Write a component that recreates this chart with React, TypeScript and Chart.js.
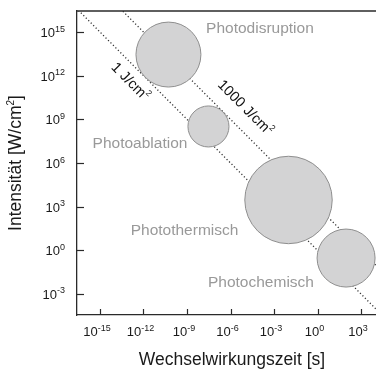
import React, { useEffect, useRef } from "react";
import { Chart, registerables } from "chart.js";

Chart.register(...registerables);

// ---- data ----
const regimeNames = ["Photodisruption", "Photoablation", "Photothermisch", "Photochemisch"];
const regimeTimes = [5.25e-11, 3.02e-8, 1.0e-2, 93.3]; // s (circle centres)
const regimeIntensities = [2.82e13, 3.24e8, 2.88e3, 0.295]; // W/cm² (circle centres)
const regimeSpanDecades = [4.48, 2.83, 6.03, 4.0]; // circle diameter in decades of time
const regimeLabelTimes = [1.07e-4, 5.75e-13, 6.76e-10, 1.26e-4];
const regimeLabelIntensities = [8.5e14, 1.07e7, 11.2, 3.0e-3];

const fluenceLineTimes = [1e-17, 1e5];
const fluence1J = [1e17, 1e-5];
const fluence1000J = [1e20, 1e-2];
const fluenceLabelTexts = ["1 J/cm", "1000 J/cm"];
const fluenceLabelTimes = [1.17e-13, 1.0e-5];
const fluenceLabelIntensities = [3.7e11, 6.0e9];

const xTickExponents = [-15, -12, -9, -6, -3, 0, 3];
const yTickExponents = [-3, 0, 3, 6, 9, 12, 15];

const xTitle = "Wechselwirkungszeit [s]";
const yTitleMain = "Intensität [W/cm";

const FONT = "'Liberation Sans', Arial, Helvetica, sans-serif";
const AXIS_COLOR = "#2a2a2a";

type Part = { text: string; sup?: boolean };

function drawParts(
  ctx: CanvasRenderingContext2D,
  parts: Part[],
  x: number,
  y: number,
  align: "left" | "center" | "right",
  size: number,
  supSize: number,
  supRise: number
) {
  const widths = parts.map((p) => {
    ctx.font = `${p.sup ? supSize : size}px ${FONT}`;
    return ctx.measureText(p.text).width;
  });
  const total = widths.reduce((a, b) => a + b, 0);
  let cur = align === "center" ? x - total / 2 : align === "right" ? x - total : x;
  ctx.textAlign = "left";
  parts.forEach((p, i) => {
    ctx.font = `${p.sup ? supSize : size}px ${FONT}`;
    ctx.fillText(p.text, cur, p.sup ? y - supRise : y);
    cur += widths[i];
  });
}

const decorPlugin = {
  id: "decor",
  afterDraw(chart: any) {
    const { ctx, chartArea } = chart;
    const sx = chart.scales.x;
    const sy = chart.scales.y;
    ctx.save();
    // top frame line
    ctx.strokeStyle = AXIS_COLOR;
    ctx.lineWidth = 1.3;
    ctx.beginPath();
    ctx.moveTo(chartArea.left, chartArea.top);
    ctx.lineTo(chartArea.right, chartArea.top);
    ctx.stroke();
    // inward ticks
    ctx.lineWidth = 1.2;
    xTickExponents.forEach((e) => {
      const px = Math.round(sx.getPixelForValue(Math.pow(10, e))) + 0.5;
      ctx.beginPath();
      ctx.moveTo(px, chartArea.bottom);
      ctx.lineTo(px, chartArea.bottom - 6);
      ctx.stroke();
    });
    yTickExponents.forEach((e) => {
      const py = Math.round(sy.getPixelForValue(Math.pow(10, e))) + 0.5;
      ctx.beginPath();
      ctx.moveTo(chartArea.left, py);
      ctx.lineTo(chartArea.left + 7, py);
      ctx.stroke();
    });
    // tick labels
    ctx.fillStyle = "#1a1a1a";
    ctx.textBaseline = "alphabetic";
    xTickExponents.forEach((e) => {
      const px = sx.getPixelForValue(Math.pow(10, e));
      drawParts(ctx, [{ text: "10" }, { text: String(e), sup: true }], px - 3, chartArea.bottom + 21, "center", 13, 9, 5.5);
    });
    yTickExponents.forEach((e) => {
      const py = sy.getPixelForValue(Math.pow(10, e));
      drawParts(ctx, [{ text: "10" }, { text: String(e), sup: true }], chartArea.left - 12, py + 5, "right", 13, 9, 5.5);
    });
    // axis titles
    ctx.fillStyle = "#1a1a1a";
    drawParts(ctx, [{ text: xTitle }], 232, 365, "center", 17.5, 11, 7);
    ctx.save();
    ctx.translate(21, 163);
    ctx.rotate(-Math.PI / 2);
    drawParts(ctx, [{ text: yTitleMain }, { text: "2", sup: true }, { text: "]" }], 0, 0, "center", 17.5, 10, 7);
    ctx.restore();
    // regime labels
    ctx.fillStyle = "#999999";
    regimeNames.forEach((name, i) => {
      const px = sx.getPixelForValue(regimeLabelTimes[i]);
      const py = sy.getPixelForValue(regimeLabelIntensities[i]);
      drawParts(ctx, [{ text: name }], px, py, "center", 15.5, 10, 6);
    });
    // fluence labels (rotated along the lines)
    const p1x = sx.getPixelForValue(1e-15);
    const p1y = sy.getPixelForValue(1e15);
    const p2x = sx.getPixelForValue(1e3);
    const p2y = sy.getPixelForValue(1e-3);
    const angle = Math.atan2(p2y - p1y, p2x - p1x);
    ctx.fillStyle = "#111111";
    ctx.textBaseline = "middle";
    fluenceLabelTexts.forEach((t, i) => {
      const px = sx.getPixelForValue(fluenceLabelTimes[i]);
      const py = sy.getPixelForValue(fluenceLabelIntensities[i]);
      ctx.save();
      ctx.translate(px, py);
      ctx.rotate(angle);
      drawParts(ctx, [{ text: t }, { text: "2", sup: true }], 0, 0, "center", 14.5, 8.5, 5);
      ctx.restore();
    });
    ctx.restore();
  },
};

export default function App() {
  const ref = useRef<HTMLCanvasElement | null>(null);
  useEffect(() => {
    if (!ref.current) return;
    const circleData = regimeTimes.map((t, i) => ({
      x: t,
      y: regimeIntensities[i],
      span: regimeSpanDecades[i],
    }));
    const radiusFn = (c: any) => {
      const sx = c.chart.scales.x;
      const raw = c.raw;
      if (!sx || !raw) return 0;
      const half = Math.pow(10, raw.span / 2);
      return Math.abs(sx.getPixelForValue(raw.x * half) - sx.getPixelForValue(raw.x / half)) / 2;
    };
    const lineStyle = {
      type: "scatter" as const,
      showLine: true,
      pointRadius: 0,
      borderColor: "#333333",
      borderWidth: 1.3,
      borderDash: [1.2, 2.3],
      fill: false,
      order: 1,
    };
    const chart = new Chart(ref.current, {
      type: "scatter",
      data: {
        datasets: [
          {
            label: "Regime",
            data: circleData as any,
            backgroundColor: "#d3d3d4",
            borderColor: "#8e8e8e",
            borderWidth: 1,
            pointRadius: radiusFn as any,
            pointHoverRadius: radiusFn as any,
            clip: false as any,
            order: 0,
          },
          {
            ...lineStyle,
            label: "1 J/cm²",
            data: fluenceLineTimes.map((t, i) => ({ x: t, y: fluence1J[i] })),
          },
          {
            ...lineStyle,
            label: "1000 J/cm²",
            data: fluenceLineTimes.map((t, i) => ({ x: t, y: fluence1000J[i] })),
          },
        ],
      },
      options: {
        responsive: false,
        animation: false,
        events: [],
        layout: { padding: { left: 77, top: 11, right: 0, bottom: 56 } },
        plugins: { legend: { display: false }, tooltip: { enabled: false } },
        scales: {
          x: {
            type: "logarithmic",
            min: Math.pow(10, -16.586),
            max: Math.pow(10, 4.034),
            grid: { display: false, drawTicks: false },
            ticks: { display: false },
            border: { display: true, color: AXIS_COLOR, width: 1.3 },
            title: { display: false },
          },
          y: {
            type: "logarithmic",
            min: Math.pow(10, -4.443),
            max: Math.pow(10, 16.443),
            grid: { display: false, drawTicks: false },
            ticks: { display: false },
            border: { display: true, color: AXIS_COLOR, width: 1.3 },
            title: { display: false },
          },
        },
      },
      plugins: [decorPlugin],
    });
    return () => chart.destroy();
  }, []);
  return (
    <canvas
      ref={ref}
      width={376}
      height={371}
      style={{ position: "absolute", left: 0, top: 0, display: "block", width: 376, height: 371 }}
    />
  );
}
